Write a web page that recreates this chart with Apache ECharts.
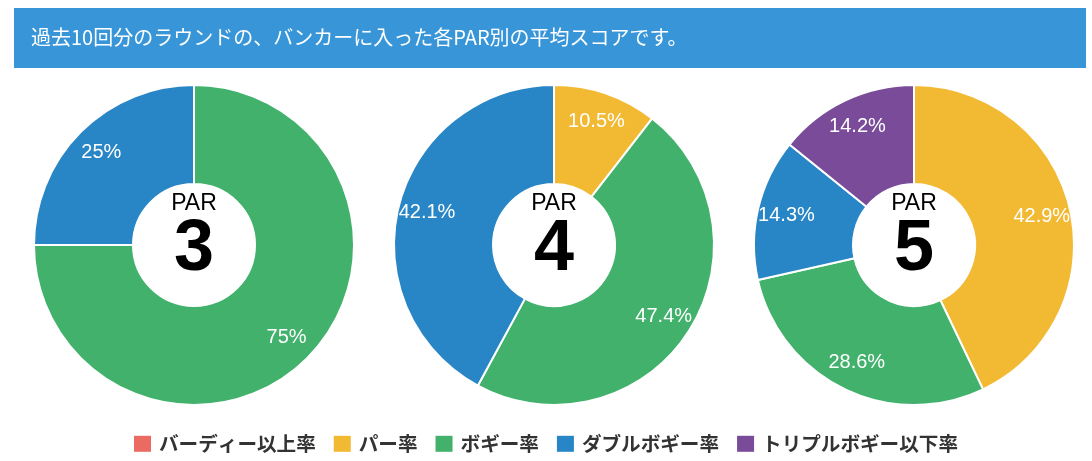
<!DOCTYPE html>
<html><head><meta charset="utf-8">
<script src="https://cdn.jsdelivr.net/npm/echarts@6/dist/echarts.min.js"></script>
<style>html,body{margin:0;padding:0;background:#fff}#c{width:1092px;height:461px}</style>
</head><body><div id="c"></div>
<script>
const headerText = '過去10回分のラウンドの、バンカーに入った各PAR別の平均スコアです。';
const categories = ['バーディー以上率', 'パー率', 'ボギー率', 'ダブルボギー率', 'トリプルボギー以下率'];
const colors = ['#eb6a62', '#f2b933', '#41b16c', '#2885c6', '#794b98'];
const parLabels = ['3', '4', '5'];
const par3 = [0, 0, 75, 25, 0];
const par4 = [0, 10.5, 47.4, 42.1, 0];
const par5 = [0, 42.9, 28.6, 14.3, 14.2];
const parValues = [par3, par4, par5];

const centersX = [194, 554, 914];
const centerY = 245;
const chart = echarts.init(document.getElementById('c'));
const series = [];
const graphics = [
  {type:'rect', left:14, top:8, shape:{width:1072, height:60}, style:{fill:'#3896d8'}},
  {type:'text', left:31, top:27, style:{text:headerText, fill:'#fff', font:'20px "Noto Sans CJK JP"'}}
];
parValues.forEach((vals, i) => {
  const data = categories.map((n, k) => ({name:n, value:vals[k]}));
  series.push({
    type:'pie', center:[centersX[i], centerY], radius:[61, 160], startAngle:90, clockwise:true,
    silent:true, animation:false, label:{show:false}, labelLine:{show:false},
    itemStyle:{borderColor:'#fff', borderWidth:2},
    data: data
  });
  series.push({
    type:'pie', center:[centersX[i], centerY], radius:[96, 160], startAngle:90, clockwise:true,
    silent:true, animation:false, labelLine:{show:false},
    itemStyle:{color:'rgba(0,0,0,0)', borderWidth:0},
    label:{show:true, position:'inside', color:'#fff', fontSize:20, fontFamily:'Liberation Sans',
      formatter: p => p.value > 0 ? p.value + '%' : ''},
    data: data
  });
  graphics.push({type:'text', x:centersX[i], y:204, style:{text:'PAR', fill:'#000', font:'23px "Liberation Sans"', textAlign:'center', textVerticalAlign:'middle'}});
  graphics.push({type:'text', x:centersX[i], y:250, style:{text:parLabels[i], fill:'#000', font:'bold 72px "Liberation Sans"', textAlign:'center', textVerticalAlign:'middle'}});
});
chart.setOption({
  animation:false,
  color: colors,
  legend:{data:categories, top:429, left:'center', icon:'rect', itemWidth:17, itemHeight:16, itemGap:18,
    selectedMode:false, itemStyle:{borderWidth:0},
    textStyle:{fontSize:19.6, fontWeight:'bold', color:'#333', fontFamily:'Noto Sans CJK JP', padding:[0,0,0,3]}},
  graphic: graphics,
  series: series
});
</script></body></html>
